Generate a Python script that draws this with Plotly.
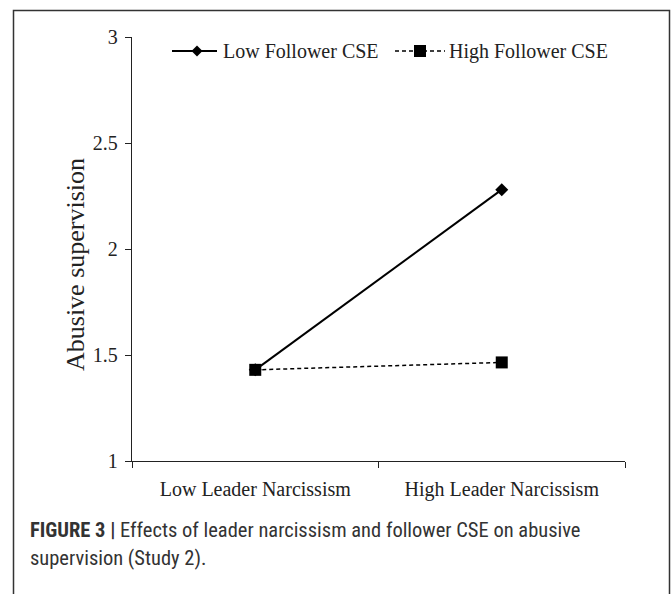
import plotly.graph_objects as go

categories = ["Low Leader Narcissism", "High Leader Narcissism"]
low_cse = [1.43, 2.28]
high_cse = [1.43, 1.465]
y_ticks = [1, 1.5, 2, 2.5, 3]
y_tick_labels = ["1", "1.5", "2", "2.5", "3"]
series_names = ["Low Follower CSE", "High Follower CSE"]

W, H = 672, 594
L, R, T, B = 132, 625, 37, 461

def px_x(p):
    return (p - L) / (R - L)

def px_y(p):
    return (B - p) / (B - T)

serif = "Liberation Serif, Times New Roman, serif"
ink = "#222"

fig = go.Figure()
fig.add_trace(go.Scatter(
    x=categories, y=low_cse, name=series_names[0], mode="lines+markers",
    line=dict(color="black", width=2),
    marker=dict(symbol="diamond", size=10, color="black"),
))
fig.add_trace(go.Scatter(
    x=categories, y=high_cse, name=series_names[1], mode="lines+markers",
    line=dict(color="black", width=1.5, dash="4px,3px"),
    marker=dict(symbol="square", size=12, color="black"),
))

fig.update_layout(
    width=W, height=H,
    margin=dict(l=L, r=W - R, t=T, b=H - B, pad=0),
    paper_bgcolor="white", plot_bgcolor="white",
    font=dict(family=serif, size=20, color=ink),
    showlegend=False,
    xaxis=dict(type="category", range=[-0.5, 1.5], tickson="boundaries",
               ticks="outside", ticklen=6, tickcolor=ink, showline=True,
               linecolor=ink, linewidth=1.3, showgrid=False, zeroline=False,
               ticklabelstandoff=10,
               tickfont=dict(family=serif, size=20, color=ink)),
    yaxis=dict(range=[1, 3], tickvals=y_ticks, ticktext=y_tick_labels,
               ticks="outside", ticklen=6, tickcolor=ink, showline=True,
               linecolor=ink, linewidth=1.3, showgrid=False, zeroline=False,
               ticklabelstandoff=3,
               tickfont=dict(family=serif, size=20, color=ink)),
)

# outer frame
fig.add_shape(type="rect", xref="paper", yref="paper",
              x0=px_x(13.5), x1=px_x(669.5), y0=px_y(700), y1=px_y(10.5),
              line=dict(color="#333", width=1.5), layer="below")

# y-axis title
fig.add_annotation(xref="paper", yref="paper", x=px_x(75), y=px_y(265),
                   xanchor="center", yanchor="middle", showarrow=False, textangle=-90,
                   text="Abusive supervision",
                   font=dict(family=serif, size=26, color=ink))

# legend (drawn manually to match the longer legend keys)
ly = 51
fig.add_shape(type="line", xref="paper", yref="paper",
              x0=px_x(172), x1=px_x(217), y0=px_y(ly), y1=px_y(ly),
              line=dict(color="black", width=2))
fig.add_shape(type="path", xref="paper", yref="paper",
              path="M {},{} L {},{} L {},{} L {},{} Z".format(
                  px_x(197), px_y(ly - 5.5), px_x(202.5), px_y(ly),
                  px_x(197), px_y(ly + 5.5), px_x(191.5), px_y(ly)),
              fillcolor="black", line=dict(color="black", width=0))
fig.add_annotation(xref="paper", yref="paper", x=px_x(221), y=px_y(ly),
                   xanchor="left", yanchor="middle", showarrow=False,
                   text=series_names[0], font=dict(family=serif, size=20, color=ink))
fig.add_shape(type="line", xref="paper", yref="paper",
              x0=px_x(395), x1=px_x(445), y0=px_y(ly), y1=px_y(ly),
              line=dict(color="black", width=1.5, dash="4px,3px"))
fig.add_shape(type="rect", xref="paper", yref="paper",
              x0=px_x(414), x1=px_x(426), y0=px_y(ly + 6), y1=px_y(ly - 6),
              fillcolor="black", line=dict(color="black", width=0))
fig.add_annotation(xref="paper", yref="paper", x=px_x(447), y=px_y(ly),
                   xanchor="left", yanchor="middle", showarrow=False,
                   text=series_names[1], font=dict(family=serif, size=20, color=ink))

# caption
cap_font = "Liberation Sans Narrow, Arial Narrow, Roboto Condensed, Liberation Sans, sans-serif"
fig.add_annotation(xref="paper", yref="paper", x=px_x(28), y=px_y(530),
                   xanchor="left", yanchor="middle", showarrow=False, align="left",
                   text="<b>FIGURE 3 |</b> Effects of leader narcissism and follower CSE on abusive",
                   font=dict(family=cap_font, size=20.5, color="#333"))
fig.add_annotation(xref="paper", yref="paper", x=px_x(28), y=px_y(558),
                   xanchor="left", yanchor="middle", showarrow=False, align="left",
                   text="supervision (Study 2).",
                   font=dict(family=cap_font, size=20.5, color="#333"))

fig.write_html("out.html", config={"displayModeBar": False},
               post_script="document.body.style.margin='0';")
